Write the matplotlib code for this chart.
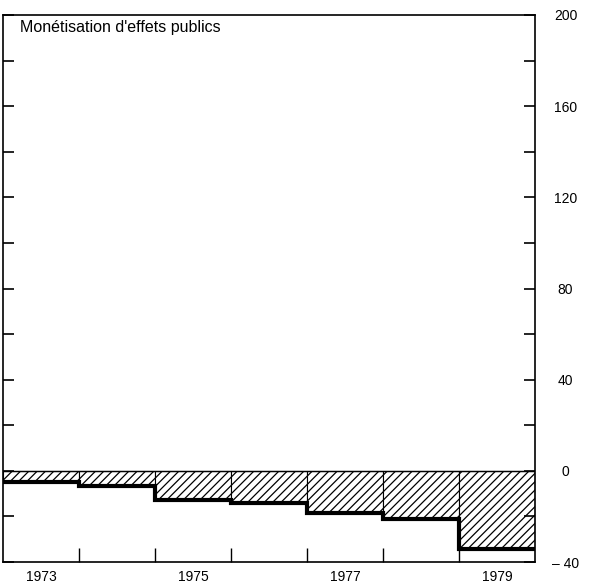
import matplotlib
matplotlib.use("Agg")
import matplotlib.pyplot as plt
import numpy as np

years = [1973, 1974, 1975, 1976, 1977, 1978, 1979]
values = [-5, -6.7, -13, -14, -18.6, -21, -34.4]
year_labels = ["1973", "1975", "1977", "1979"]
title = "Monétisation d'effets publics"

plt.rcParams['font.family'] = ['Liberation Sans', 'DejaVu Sans']
plt.rcParams['hatch.linewidth'] = 0.9

fig = plt.figure(figsize=(5.91, 5.84), dpi=100)
ax = fig.add_axes([3 / 591, 22 / 584, 532 / 591, 547 / 584])

x = np.arange(len(years))
ax.bar(x, values, width=1.0, align='edge', color='white', edgecolor='black',
       linewidth=0.8, hatch='////')
ax.axhline(0, color='black', lw=1.0)

# thick step line along the bar bottoms
edges = np.arange(len(years) + 1)
ax.step(edges, values + [values[-1]], where='post', color='black', lw=3,
        solid_joinstyle='miter')

ax.set_xlim(0, len(years))
ax.set_ylim(-40, 200)

ax.yaxis.tick_right()
ax.set_yticks(np.arange(-40, 201, 20))
ax.set_yticklabels(["\u2013 40" if v == -40 else (str(v) if v % 40 == 0 else "")
                    for v in range(-40, 201, 20)])
ax.tick_params(axis='y', which='both', direction='in', length=8, width=1.2,
               left=True, right=True, labelleft=False, labelright=True,
               labelsize=10, pad=22)
for lab in ax.get_yticklabels():
    lab.set_horizontalalignment('center')

ax.set_xticks(edges[1:-1])
ax.set_xticklabels([])
ax.tick_params(axis='x', direction='in', length=10, width=1.0, bottom=True)
for i, lab in enumerate(year_labels):
    ax.text(2 * i + 0.5, -0.015, lab, transform=ax.get_xaxis_transform(),
            ha='center', va='top', fontsize=10)

for s in ax.spines.values():
    s.set_linewidth(1.2)

ax.text(0.032, 0.99, title, transform=ax.transAxes, ha='left', va='top',
        fontsize=11.5)

fig.savefig("out.png", dpi=100)
